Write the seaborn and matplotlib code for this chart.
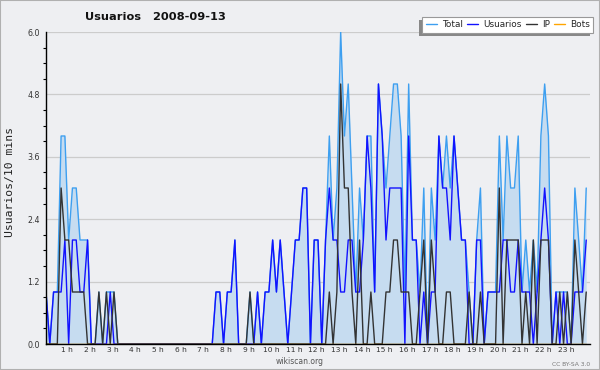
import matplotlib.pyplot as plt
import matplotlib.transforms as mtransforms
from matplotlib.lines import Line2D
from matplotlib.patches import Rectangle
from matplotlib.ticker import MultipleLocator, FormatStrFormatter
import numpy as np
import pandas as pd
import seaborn as sns

# ---------------------------------------------------------
# DATA: editors per 10-minute slot, 2008-09-13 (144 slots)
# ---------------------------------------------------------
usuarios = [1, 0, 1, 1, 1, 2, 0, 2, 2, 1, 1, 2, 0, 0, 0, 0, 0, 1, 0, 0,
            0, 0, 0, 0, 0, 0, 0, 0, 0, 0, 0, 0, 0, 0, 0, 0, 0, 0, 0, 0, 0, 0, 0, 0,
            0, 1, 1, 0, 1, 1, 2, 0, 0, 0, 0, 0, 1, 0, 1, 1, 2, 1, 2, 1, 0, 1, 2, 2, 3, 3, 0, 2, 2, 0,
            2, 3, 2, 2, 1, 1, 2, 2, 1, 1,
            2, 4, 3, 1, 5, 4, 2, 3, 3, 3,
            3, 0, 4, 2, 2, 0, 1, 0, 1, 1,
            4, 3, 3, 2, 4, 3, 2, 2, 0, 0,
            2, 2, 0, 1, 1, 1, 1, 2, 2, 1,
            1, 2, 1, 1, 1, 0, 1, 2, 3, 2,
            0, 1, 0, 1, 0, 0, 1, 1, 1, 2]

ip = [0, 0, 0, 0, 3, 2, 2, 1, 1, 1, 1, 0, 0, 0, 1, 0, 1, 0, 1, 0,
      0, 0, 0, 0, 0, 0, 0, 0, 0, 0, 0, 0, 0, 0, 0, 0, 0, 0, 0, 0, 0, 0, 0, 0,
      0, 0, 0, 0, 0, 0, 0, 0, 0, 0, 1, 0, 0, 0, 0, 0, 0, 0, 0, 0, 0, 0, 0, 0, 0, 0, 0, 0, 0, 0,
      0, 1, 0, 1, 5, 3, 3, 1, 0, 2,
      0, 0, 1, 0, 0, 0, 1, 1, 2, 2,
      1, 1, 1, 0, 0, 1, 2, 0, 2, 1,
      0, 0, 1, 1, 0, 0, 0, 0, 1, 0,
      0, 1, 0, 0, 0, 0, 3, 0, 2, 2,
      2, 2, 0, 1, 0, 2, 0, 2, 2, 2,
      0, 0, 1, 0, 1, 0, 2, 1, 0, 1]

total = [1, 0, 1, 1, 4, 4, 2, 3, 3, 2, 2, 2, 0, 0, 1, 0, 1, 1, 1, 0,
         0, 0, 0, 0, 0, 0, 0, 0, 0, 0, 0, 0, 0, 0, 0, 0, 0, 0, 0, 0, 0, 0, 0, 0,
         0, 1, 1, 0, 1, 1, 2, 0, 0, 0, 1, 0, 1, 0, 1, 1, 2, 1, 2, 1, 0, 1, 2, 2, 3, 3, 0, 2, 2, 0,
         2, 4, 2, 3, 6, 4, 5, 3, 1, 3,
         2, 4, 4, 1, 5, 4, 3, 4, 5, 5,
         4, 1, 5, 2, 2, 1, 3, 0, 3, 2,
         4, 3, 4, 3, 4, 3, 2, 2, 1, 0,
         2, 3, 0, 1, 1, 1, 4, 2, 4, 3,
         3, 4, 1, 2, 1, 2, 1, 4, 5, 4,
         0, 1, 1, 1, 1, 0, 3, 2, 1, 3]

bots = [0] * 144

series_names = ["Total", "Usuarios", "IP", "Bots"]
hours = list(range(1, 24))
hour_labels = [f"{h} h" for h in hours]
y_ticks = [0.0, 1.2, 2.4, 3.6, 4.8, 6.0]

# ---------------------------------------------------------
# STYLE
# ---------------------------------------------------------
bg = "#eeeff2"
palette = {"Total": "#3d9ff0", "Usuarios": "#1212ff", "IP": "#333333", "Bots": "#ffa500"}
fill_color = "#c6dcf0"

sns.set_theme(style="white")
plt.rcParams["font.family"] = ["DejaVu Sans"]

slots = np.arange(len(total))
df = pd.DataFrame({"slot": slots, "Total": total, "Usuarios": usuarios,
                   "IP": ip, "Bots": bots})
long_df = df.melt(id_vars="slot", var_name="serie", value_name="valor")

fig = plt.figure(figsize=(6, 3.7), dpi=100, facecolor=bg)
ax = fig.add_axes([46 / 600, 26 / 370, 544 / 600, 312 / 370])
ax.set_facecolor(bg)
ax.set_axisbelow(True)

# area under total + the four series
ax.fill_between(slots, total, color=fill_color, lw=0, zorder=1)
sns.lineplot(data=long_df, x="slot", y="valor", hue="serie", hue_order=series_names,
             palette=palette, estimator=None, lw=1.0, legend=False, ax=ax, zorder=3)

# axes
ax.set_xlim(0, 144)
ax.set_ylim(0, 6)
ax.set_xlabel("")
ax.set_ylabel("")
ax.set_yticks(y_ticks)
ax.yaxis.set_major_formatter(FormatStrFormatter("%.1f"))
ax.yaxis.set_minor_locator(MultipleLocator(0.3))
ax.tick_params(axis="y", which="major", length=3.6, width=0.8, color="black",
               labelsize=5.7, labelcolor="#333333", pad=1)
ax.tick_params(axis="y", which="minor", length=2.4, width=0.8, color="black", left=True)
ax.set_xticks(slots)
ax.tick_params(axis="x", which="major", length=2.8, width=0.7, color="black",
               labelbottom=False)
ax.grid(axis="y", which="major", color="#cccccc", lw=0.9)
ax.grid(axis="x", visible=False)

for side in ["top", "right"]:
    ax.spines[side].set_visible(False)
for side in ["left", "bottom"]:
    ax.spines[side].set_color("black")
    ax.spines[side].set_linewidth(1.0)
    ax.spines[side].set_zorder(4)

# hour labels on a background box so they cut the small ticks
trans = mtransforms.blended_transform_factory(ax.transData, fig.transFigure)
for h, lab in zip(hours, hour_labels):
    ax.text(6 * h - 0.4, 1 - 349.5 / 370, lab, transform=trans, ha="center", va="center",
            fontsize=5.4, color="#333333", zorder=3.5, clip_on=False,
            bbox=dict(facecolor=bg, edgecolor="none", pad=0.4))

# texts
fig.text(85 / 600, 1 - 16.5 / 370, "Usuarios   2008-09-13", fontsize=8.2,
         fontweight="bold", color="#111111", ha="left", va="center")
fig.text(10 / 600, 1 - 182 / 370, "Usuarios/10 mins", rotation=90, fontsize=8.2,
         family="DejaVu Sans Mono", color="#222222", ha="center", va="center")
fig.text(300 / 600, 1 - 362 / 370, "wikiscan.org", fontsize=5.5, color="#555555",
         ha="center", va="center")
fig.text(571 / 600, 1 - 364 / 370, "CC BY-SA 3.0", fontsize=4.3, color="#777777",
         ha="center", va="center")

# legend with a square box and a shadow to the lower left
handles = [Line2D([0], [0], color=palette[n], lw=1.0) for n in series_names]
leg = ax.legend(handles, series_names, ncol=4, loc="upper right",
                bbox_to_anchor=(593 / 600, 1 - 17.3 / 370), bbox_transform=fig.transFigure,
                fontsize=6.4, frameon=True, fancybox=False, framealpha=1,
                edgecolor="#999999", facecolor="white", borderpad=0.35,
                handlelength=1.25, handletextpad=0.55, columnspacing=0.5,
                borderaxespad=0)
leg.get_frame().set_linewidth(0.8)
fig.canvas.draw()
bb = leg.get_frame().get_window_extent()
ax.add_artist(Rectangle((bb.x0 - 3, bb.y0 - 3), bb.width, bb.height,
                        transform=mtransforms.IdentityTransform(), facecolor="#888888",
                        edgecolor="none", zorder=4.9, clip_on=False))

# thin frame around the whole picture
fig.patches.append(Rectangle((0, 0), 1, 1, transform=fig.transFigure, fill=False,
                             edgecolor="#b0b0b0", lw=1.5, zorder=10))

fig.savefig("out.png", dpi=100, facecolor=bg)
